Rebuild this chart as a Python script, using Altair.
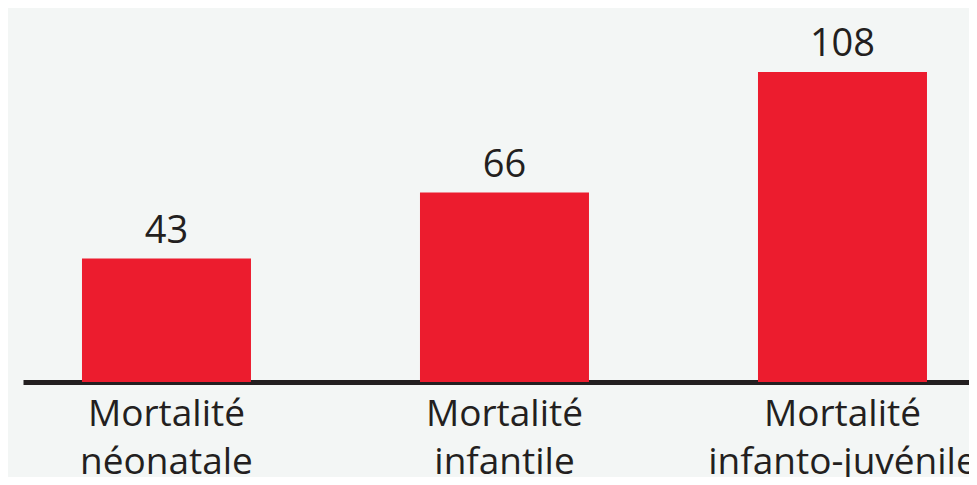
import altair as alt
import pandas as pd

categories = ["Mortalité\nnéonatale", "Mortalité\ninfantile", "Mortalité\ninfanto-juvénile"]
values = [43, 66, 108]

df = pd.DataFrame({"cat": categories, "val": values})

x = alt.X(
    "cat:N",
    sort=categories,
    title=None,
    scale=alt.Scale(paddingInner=0.5, paddingOuter=0.1494, align=0.584),
    axis=alt.Axis(
        domain=True,
        domainColor="#231f20",
        domainWidth=5,
        ticks=False,
        labelAngle=0,
        labelFont="Open Sans",
        labelFontSize=37,
        labelColor="#231f20",
        labelLineHeight=48,
        labelPadding=14,
        labelLimit=0,
        labelOverlap=False,
        labelBound=False,
        labelFlush=False,
        labelExpr="split(datum.label, '\\n')",
    ),
)
y = alt.Y("val:Q", scale=alt.Scale(domain=[0, 130.3], nice=False), axis=None)

base = alt.Chart(df)
bars = base.mark_bar(color="#ec1c2e").encode(x=x, y=y)
labels = base.mark_text(
    font="Open Sans", fontSize=38, color="#231f20", baseline="alphabetic", dy=-16
).encode(x=x, y=y, text="val:Q")

chart = (
    alt.layer(bars, labels)
    .properties(
        width=946,
        height=374,
        autosize=alt.AutoSizeParams(type="none"),
        padding={"left": 15, "top": 0, "right": 0, "bottom": 95},
        background="#f3f6f5",
    )
    .configure_view(stroke=None)
)

chart.save("out.html", embed_options={"renderer": "svg", "actions": False})
